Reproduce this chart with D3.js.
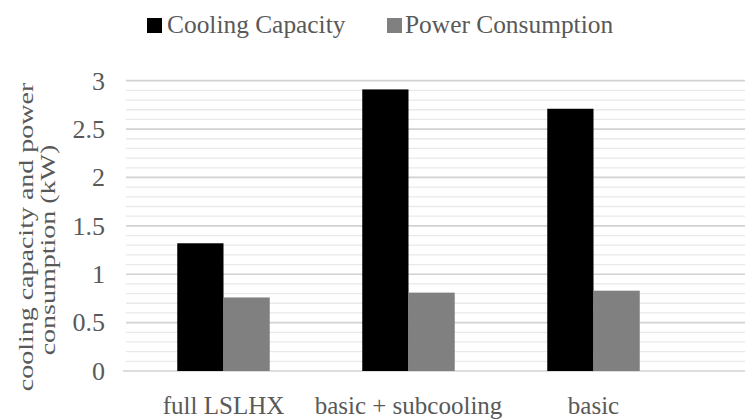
<!DOCTYPE html>
<html>
<head>
<meta charset="utf-8">
<script src="https://cdn.jsdelivr.net/npm/d3@7"></script>
<style>
  html, body { margin: 0; padding: 0; background: #fff; }
  svg { display: block; }
  text { font-family: "Liberation Serif", Tinos, "Times New Roman", Times, "DejaVu Serif", serif; fill: #595959; }
</style>
</head>
<body>
<svg id="chart" width="745" height="420"></svg>
<script>
const categories = ["full LSLHX", "basic + subcooling", "basic"];
const seriesNames = ["Cooling Capacity", "Power Consumption"];
const coolingCapacity = [1.32, 2.91, 2.71];
const powerConsumption = [0.76, 0.81, 0.83];
const yTicks = [0, 0.5, 1, 1.5, 2, 2.5, 3];
const seriesColors = ["#000000", "#808080"];

const FONT = '"Liberation Serif", Tinos, "Times New Roman", Times, "DejaVu Serif", serif';
const svg = d3.select("#chart");
const plot = { left: 131, right: 686, top: 80.7, bottom: 371, gridLeft: 126, gridRight: 745 };

const y = d3.scaleLinear().domain([0, 3]).range([plot.bottom, plot.top]);
const x0 = d3.scaleBand().domain(categories).range([plot.left, plot.right]).padding(0);
const x1 = d3.scaleBand().domain(seriesNames).range([0, x0.bandwidth()]).paddingInner(0).paddingOuter(1);

// minor gridlines
const minorTicks = d3.range(0, 3.0001, 0.1).filter(v => Math.abs(v * 2 - Math.round(v * 2)) > 1e-6);
svg.append("g").selectAll("line").data(minorTicks).join("line")
  .attr("x1", plot.gridLeft).attr("x2", plot.gridRight)
  .attr("y1", d => y(d)).attr("y2", d => y(d))
  .attr("stroke", "#e9e9e9").attr("stroke-width", 1.3);

// major gridlines
svg.append("g").selectAll("line").data(yTicks).join("line")
  .attr("x1", d => d === 0 ? 123 : plot.gridLeft).attr("x2", plot.gridRight)
  .attr("y1", d => y(d)).attr("y2", d => y(d))
  .attr("stroke", "#d2d2d2").attr("stroke-width", 1.7);

// bars
const data = categories.map((c, i) => ({ cat: c, values: [coolingCapacity[i], powerConsumption[i]] }));
const groups = svg.append("g").selectAll("g").data(data).join("g")
  .attr("transform", d => `translate(${x0(d.cat)},0)`);
groups.selectAll("rect").data(d => d.values.map((v, j) => ({ s: seriesNames[j], v, j }))).join("rect")
  .attr("x", d => x1(d.s))
  .attr("width", x1.bandwidth())
  .attr("y", d => y(d.v))
  .attr("height", d => y(0) - y(d.v))
  .attr("fill", d => seriesColors[d.j]);

// y axis labels
const yAxis = d3.axisLeft(y).tickValues(yTicks).tickSize(0).tickPadding(0).tickFormat(d3.format("~g"));
const ya = svg.append("g").attr("transform", "translate(105,0)").call(yAxis);
ya.attr("font-family", null).attr("font-size", null);
ya.select(".domain").remove();
ya.selectAll("text").attr("font-size", 26).attr("fill", "#595959").style("font-family", FONT);

// x axis labels
const xAxis = d3.axisBottom(x0).tickSize(0).tickPadding(0);
const xa = svg.append("g").attr("transform", "translate(0,391)").call(xAxis);
xa.attr("font-family", null).attr("font-size", null);
xa.select(".domain").remove();
xa.selectAll("text").attr("font-size", 25).attr("fill", "#595959").attr("dy", "0.93em").style("font-family", FONT);

// y title
const titleLines = [
  { t: "cooling capacity and power", x: 33, yc: 237 },
  { t: "consumption (kW)", x: 55, yc: 250 }
];
svg.append("g").selectAll("text").data(titleLines).join("text")
  .attr("transform", d => `translate(${d.x},${d.yc}) rotate(-90) scale(1,0.78)`)
  .attr("text-anchor", "middle")
  .attr("font-size", 28)
  .style("font-family", FONT)
  .text(d => d.t);

// legend
const legendItems = [
  { name: seriesNames[0], color: seriesColors[0], sx: 147, tx: 167 },
  { name: seriesNames[1], color: seriesColors[1], sx: 387, tx: 405 }
];
const lg = svg.append("g");
lg.selectAll("rect").data(legendItems).join("rect")
  .attr("x", d => d.sx).attr("y", 18).attr("width", 15).attr("height", 15)
  .attr("fill", d => d.color);
lg.selectAll("text").data(legendItems).join("text")
  .attr("x", d => d.tx).attr("y", 33)
  .attr("font-size", 25.4)
  .style("font-family", FONT)
  .text(d => d.name);
</script>
</body>
</html>
